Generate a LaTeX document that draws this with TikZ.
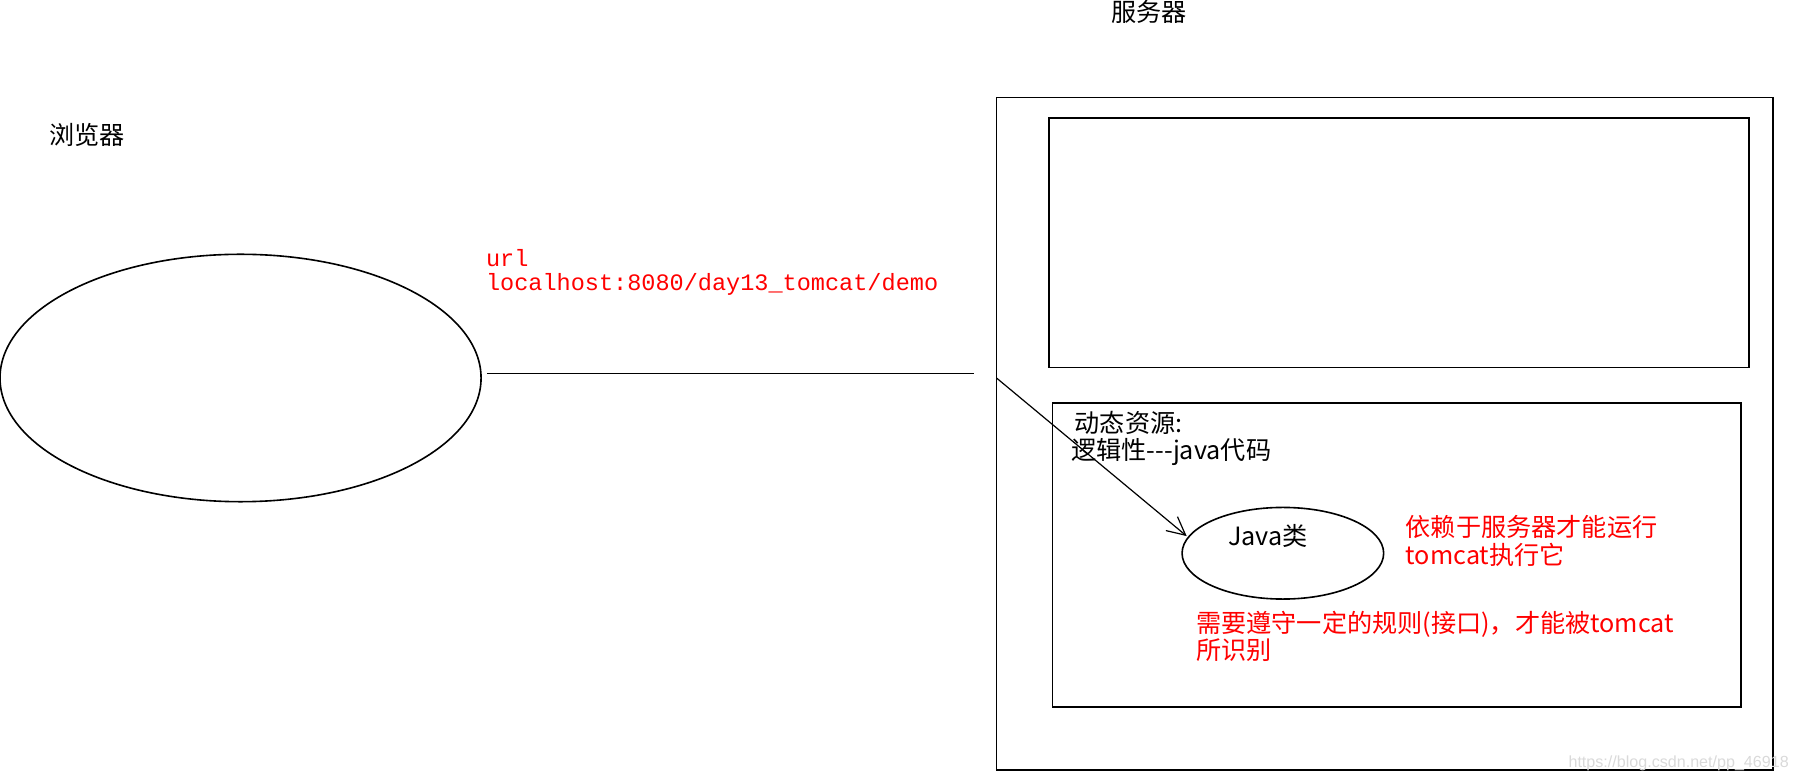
\documentclass[tikz,border=0pt]{standalone}
\usepackage{fontspec}
\setmainfont{Liberation Sans}
\newfontfamily\cjk{Noto Sans CJK SC}
\newfontfamily\mono{Liberation Mono}
\usetikzlibrary{arrows.meta}
\begin{document}
\begin{tikzpicture}[x=0.02cm,y=-0.02cm,
  lbl/.style={anchor=west,inner sep=0pt,font=\fontsize{12.5}{14}\selectfont\cjk},
  red/.style={lbl,text=red},
  box/.style={draw,line width=0.8pt}]
\useasboundingbox (0,0) rectangle (1568,684);
\node[lbl] (srv) at (970,10) {服务器};
\node[lbl] (brw) at (43,118) {浏览器};
\draw[line width=0.8pt] (210,330) ellipse [x radius=210,y radius=108];
\coordinate (l1) at (425,326); \coordinate (l2) at (850,326);
\draw[line width=0.8pt] (l1) -- (l2);
\node[red,font=\fontsize{11.7}{13}\selectfont\mono] (u1) at (424,225) {url};
\node[red,font=\fontsize{11.7}{13}\selectfont\mono] (u2) at (424,248) {localhost:8080/day13\_tomcat/demo};
\draw[box] (870,85) rectangle (1548,672);
\draw[box] (916,103) rectangle (1527,321);
\draw[box] (919,352) rectangle (1520,617);
\node[lbl] (d1) at (938,369) {动态资源:};
\node[lbl] (d2) at (935,395) {逻辑性---java代码};
\draw[line width=0.8pt] (1120,483) ellipse [x radius=88,y radius=40];
\node[lbl] (jt) at (1072,468) {Java类};
\coordinate (a1) at (870,330); \coordinate (a2) at (1036,468);
\draw[line width=0.6pt,-{Straight Barb[length=9pt,width=9pt]}] (a1) -- (a2);
\node[red] (r1) at (1227,460) {依赖于服务器才能运行};
\node[red] (r2) at (1227,484) {tomcat执行它};
\node[red] (r3) at (1044,545) {需要遵守一定的规则(接口)，才能被tomcat};
\node[red] (r4) at (1044,568) {所识别};
\node[anchor=east,inner sep=0pt,text=black!15,font=\fontsize{8}{9}\selectfont] (wm) at (1562,666) {https://blog.csdn.net/pp\_46918};
\end{tikzpicture}
\end{document}
